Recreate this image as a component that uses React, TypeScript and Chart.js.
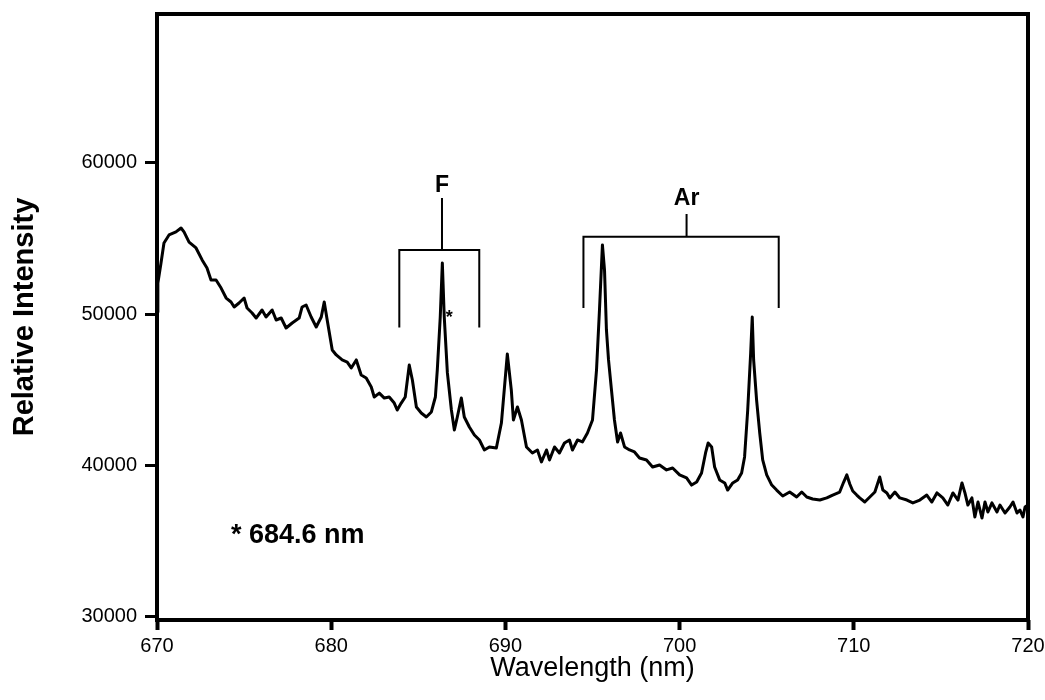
import React, { useEffect, useRef } from "react";
import { Chart, registerables } from "chart.js";

Chart.register(...registerables);

const FONT = '"Liberation Sans", Arial, Helvetica, sans-serif';

// Wavelength (nm) of each sampled point of the spectrum
const wavelengths = [
  670.0, 670.05, 670.23, 670.40, 670.69, 671.09, 671.38, 671.55, 671.84, 672.24,
  672.59, 672.87, 673.10, 673.39, 673.68, 673.97, 674.25, 674.43, 674.71, 675.00,
  675.17, 675.46, 675.69, 676.03, 676.26, 676.61, 676.84, 677.13, 677.41, 677.76,
  678.16, 678.33, 678.56, 678.85, 679.14, 679.43, 679.60, 679.77, 680.06, 680.29,
  680.63, 680.92, 681.15, 681.44, 681.72, 682.01, 682.30, 682.47, 682.76, 683.05,
  683.33, 683.62, 683.79, 684.02, 684.25, 684.48, 684.66, 684.89, 685.17, 685.46,
  685.75, 685.98, 686.09, 686.26, 686.38, 686.49, 686.67, 686.90, 687.07, 687.24,
  687.47, 687.64, 687.93, 688.22, 688.51, 688.79, 689.08, 689.48, 689.77, 690.11,
  690.34, 690.46, 690.69, 690.92, 691.21, 691.55, 691.84, 692.07, 692.36, 692.53,
  692.82, 693.10, 693.39, 693.68, 693.85, 694.14, 694.42, 694.71, 695.00, 695.23,
  695.40, 695.57, 695.69, 695.80, 695.92, 696.09, 696.26, 696.44, 696.61, 696.84,
  697.13, 697.41, 697.70, 698.10, 698.45, 698.85, 699.25, 699.60, 700.00, 700.40,
  700.69, 700.98, 701.26, 701.49, 701.64, 701.84, 702.01, 702.30, 702.59, 702.76,
  703.05, 703.33, 703.56, 703.73, 703.91, 704.08, 704.17, 704.25, 704.42, 704.60,
  704.77, 705.00, 705.29, 705.57, 705.92, 706.32, 706.72, 707.01, 707.30, 707.64,
  708.05, 708.45, 708.79, 709.19, 709.42, 709.60, 709.77, 709.94, 710.17, 710.34,
  710.63, 710.92, 711.21, 711.49, 711.67, 711.90, 712.07, 712.36, 712.64, 713.05,
  713.39, 713.79, 714.19, 714.48, 714.77, 715.11, 715.40, 715.69, 715.98, 716.21,
  716.38, 716.55, 716.78, 716.95, 717.13, 717.36, 717.53, 717.70, 717.93, 718.22,
  718.39, 718.68, 718.96, 719.14, 719.37, 719.54, 719.71, 719.83, 720.0,
];

// Relative intensity at each wavelength
const intensities = [
  50140, 52060, 53380, 54700, 55230, 55430, 55690, 55430, 54760, 54370,
  53580, 53050, 52250, 52250, 51720, 51060, 50800, 50470, 50730, 51060,
  50400, 50070, 49740, 50270, 49810, 50270, 49610, 49740, 49080, 49410,
  49740, 50470, 50600, 49810, 49150, 49810, 50800, 49610, 47630, 47300,
  46970, 46830, 46440, 46970, 45970, 45780, 45180, 44520, 44780, 44450,
  44520, 44120, 43660, 44120, 44520, 46630, 45640, 43860, 43460, 43200,
  43530, 44520, 46300, 49810, 53380, 49810, 46110, 43660, 42340, 43200,
  44450, 43200, 42540, 42010, 41680, 41020, 41220, 41150, 42800, 47360,
  44980, 43000, 43860, 43000, 41220, 40820, 41020, 40230, 41020, 40360,
  41220, 40820, 41480, 41680, 41020, 41680, 41550, 42140, 43000, 46300,
  50270, 54570, 52910, 48950, 46970, 44980, 43000, 41550, 42140, 41220,
  41020, 40890, 40490, 40360, 39890, 40030, 39700, 39830, 39370, 39170,
  38700, 38900, 39500, 40820, 41480, 41220, 39890, 39040, 38840, 38370,
  38840, 39040, 39500, 40560, 43660, 47430, 49810, 46970, 44320, 42140,
  40360, 39370, 38700, 38370, 37980, 38240, 37910, 38240, 37910, 37780,
  37710, 37850, 38040, 38240, 38900, 39370, 38770, 38310, 38040, 37850,
  37580, 37910, 38240, 39230, 38370, 38180, 37850, 38240, 37850, 37710,
  37520, 37710, 38040, 37580, 38180, 37850, 37380, 38180, 37710, 38840,
  38180, 37380, 37850, 36590, 37580, 36520, 37580, 36920, 37520, 36920,
  37380, 36850, 37250, 37580, 36850, 37050, 36590, 37250, 37380,
];

const xTicks = [670, 680, 690, 700, 710, 720];
const yTicks = [30000, 40000, 50000, 60000];
const xRange = [670, 720];
const yRange = [29782, 69833];

// Brackets marking the line groups (data coordinates)
const brackets = [
  { label: "F", left: 683.91, center: 686.36, right: 688.5, bar: 54235, legs: 49114, stem: 57672, text: 58069 },
  { label: "Ar", left: 694.48, center: 700.4, right: 705.69, bar: 55114, legs: 50402, stem: 56615, text: 57209 },
];
const starMark = { x: 686.78, y: 49741 };
const note = { text: "* 684.6 nm", x: 674.25, y: 34871 };

const annotatePlugin = {
  id: "annotate",
  afterDatasetsDraw(chart: any) {
    const { ctx, chartArea, scales } = chart;
    const x = scales.x;
    const y = scales.y;
    ctx.save();
    ctx.strokeStyle = "#000";
    ctx.fillStyle = "#000";
    ctx.lineWidth = 2;
    ctx.lineCap = "butt";
    for (const b of brackets) {
      const l = x.getPixelForValue(b.left);
      const r = x.getPixelForValue(b.right);
      const c = x.getPixelForValue(b.center);
      const yb = y.getPixelForValue(b.bar);
      const yl = y.getPixelForValue(b.legs);
      const ys = y.getPixelForValue(b.stem);
      ctx.beginPath();
      ctx.moveTo(l, yl);
      ctx.lineTo(l, yb);
      ctx.lineTo(r, yb);
      ctx.lineTo(r, yl);
      ctx.moveTo(c, yb);
      ctx.lineTo(c, ys);
      ctx.stroke();
      ctx.font = `bold 23px ${FONT}`;
      ctx.textAlign = "center";
      ctx.textBaseline = "alphabetic";
      ctx.fillText(b.label, c, y.getPixelForValue(b.text));
    }
    ctx.font = `bold 18px ${FONT}`;
    ctx.textAlign = "center";
    ctx.textBaseline = "middle";
    ctx.fillText("*", x.getPixelForValue(starMark.x), y.getPixelForValue(starMark.y));

    ctx.font = `bold 27px ${FONT}`;
    ctx.textAlign = "left";
    ctx.textBaseline = "alphabetic";
    ctx.fillText(note.text, x.getPixelForValue(note.x), y.getPixelForValue(note.y));

    ctx.lineWidth = 4;
    ctx.strokeRect(chartArea.left, chartArea.top, chartArea.right - chartArea.left, chartArea.bottom - chartArea.top);
    ctx.restore();
  },
};

export default function App() {
  const canvasRef = useRef<HTMLCanvasElement | null>(null);

  useEffect(() => {
    if (!canvasRef.current) return;
    const points = wavelengths.map((w, i) => ({ x: w, y: intensities[i] }));
    const chart = new Chart(canvasRef.current, {
      type: "line",
      data: {
        datasets: [
          {
            data: points,
            borderColor: "#000",
            borderWidth: 3,
            borderJoinStyle: "round",
            pointRadius: 0,
            tension: 0,
            fill: false,
          },
        ],
      },
      options: {
        animation: false,
        responsive: true,
        maintainAspectRatio: false,
        layout: { padding: { left: 0, right: 17, top: 14, bottom: 0 } },
        plugins: { legend: { display: false }, tooltip: { enabled: false } },
        scales: {
          x: {
            type: "linear",
            min: xRange[0],
            max: xRange[1],
            afterBuildTicks: (s: any) => {
              s.ticks = xTicks.map((v) => ({ value: v }));
            },
            afterFit: (s: any) => {
              s.height = 80;
              s.paddingLeft = 0;
              s.paddingRight = 0;
              s.paddingTop = 0;
              s.paddingBottom = 0;
            },
            grid: {
              display: true,
              drawOnChartArea: false,
              drawTicks: true,
              tickLength: 10,
              tickWidth: 4,
              tickColor: "#000",
            },
            border: { display: false },
            ticks: {
              color: "#000",
              font: { family: FONT, size: 20 },
              padding: 4,
              maxRotation: 0,
              autoSkip: false,
              callback: (v: any) => String(v),
            },
            title: {
              display: true,
              text: "Wavelength (nm)",
              color: "#000",
              font: { family: FONT, size: 27 },
              padding: { top: 0, bottom: 15 },
            },
          },
          y: {
            type: "linear",
            min: yRange[0],
            max: yRange[1],
            afterBuildTicks: (s: any) => {
              s.ticks = yTicks.map((v) => ({ value: v }));
            },
            afterFit: (s: any) => {
              s.width = 157;
              s.paddingLeft = 0;
              s.paddingRight = 0;
              s.paddingTop = 0;
              s.paddingBottom = 0;
            },
            grid: {
              display: true,
              drawOnChartArea: false,
              drawTicks: true,
              tickLength: 12,
              tickWidth: 3,
              tickColor: "#000",
            },
            border: { display: false },
            ticks: {
              color: "#000",
              font: { family: FONT, size: 20 },
              padding: 8,
              autoSkip: false,
              callback: (v: any) => String(v),
            },
            title: {
              display: true,
              text: "Relative Intensity",
              color: "#000",
              font: { family: FONT, size: 29, weight: "bold" },
              padding: { top: 8, bottom: 0 },
            },
          },
        },
      },
      plugins: [annotatePlugin],
    });
    return () => chart.destroy();
  }, []);

  return (
    <div style={{ position: "absolute", left: 0, top: 0, width: 1045, height: 700, background: "#fff" }}>
      <canvas ref={canvasRef} />
    </div>
  );
}
